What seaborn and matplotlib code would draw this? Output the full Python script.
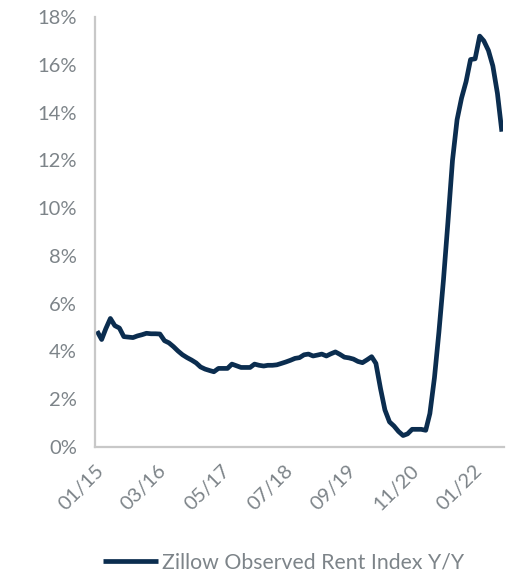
import matplotlib
matplotlib.use("Agg")
import matplotlib.pyplot as plt
import matplotlib.transforms as mtransforms
from matplotlib.ticker import FuncFormatter
import numpy as np
import pandas as pd
import seaborn as sns

# Monthly Zillow Observed Rent Index, year-over-year change (%), Jan 2015 - Jul 2022
start_month = "2015-01-01"
rent_yoy = [
    4.85, 4.50, 4.95, 5.38, 5.08, 4.98, 4.62, 4.60, 4.58, 4.65,
    4.70, 4.76, 4.74, 4.74, 4.73, 4.45, 4.36, 4.20, 4.02, 3.86,
    3.74, 3.64, 3.52, 3.35, 3.26, 3.20, 3.15, 3.29, 3.29, 3.29,
    3.47, 3.40, 3.33, 3.33, 3.33, 3.47, 3.42, 3.39, 3.42, 3.42,
    3.44, 3.50, 3.56, 3.63, 3.71, 3.74, 3.86, 3.89, 3.81, 3.85,
    3.89, 3.81, 3.90, 3.98, 3.88, 3.76, 3.73, 3.68, 3.58, 3.53,
    3.65, 3.78, 3.50, 2.45, 1.55, 1.05, 0.88, 0.65, 0.48, 0.55,
    0.74, 0.74, 0.74, 0.70, 1.40, 2.90, 4.80, 7.00, 9.40, 12.00,
    13.70, 14.60, 15.30, 16.22, 16.25, 17.20, 17.00, 16.60, 15.95, 14.80,
    13.20,
]
series_label = "Zillow Observed Rent Index Y/Y"
tick_dates = ["2015-01-01", "2016-03-01", "2017-05-01", "2018-07-01",
              "2019-09-01", "2020-11-01", "2022-01-01"]
tick_labels = ["01/15", "03/16", "05/17", "07/18", "09/19", "11/20", "01/22"]
y_ticks = [0, 2, 4, 6, 8, 10, 12, 14, 16, 18]

# readings are taken mid-month
dates = pd.date_range(start_month, periods=len(rent_yoy), freq="MS") + pd.Timedelta(days=14)
df = pd.DataFrame({"date": dates, "value": rent_yoy, "series": series_label})

sns.set_style("white")
plt.rcParams["font.family"] = ["Lato", "DejaVu Sans"]

navy = "#0b2d4f"
grey_text = "#7d8489"
grey_axis = "#c8c8c8"

fig = plt.figure(figsize=(5.13, 5.76), dpi=100)
ax = fig.add_axes([95 / 513, 1 - 447 / 576, (503.5 - 95) / 513, (447 - 17) / 576])

sns.lineplot(data=df, x="date", y="value", hue="series", palette=[navy],
             linewidth=3.4, ax=ax, legend=True)
for ln in ax.get_lines():
    ln.set_solid_joinstyle("round")
    ln.set_solid_capstyle("butt")

ax.set_xlim(pd.Timestamp("2015-01-01"), pd.Timestamp("2022-07-26"))
ax.set_ylim(0, 18)
ax.set_yticks(y_ticks)
ax.yaxis.set_major_formatter(FuncFormatter(lambda v, _: f"{v:.0f}%"))
ax.set_xticks([pd.Timestamp(d) for d in tick_dates])
ax.set_xticklabels(tick_labels, rotation=45, ha="right", rotation_mode="anchor")

# nudge the slanted date labels so their ends sit just right of each tick
shift = mtransforms.ScaledTranslation(6 / 72, -7 / 72, fig.dpi_scale_trans)
for lbl in ax.get_xticklabels():
    lbl.set_transform(lbl.get_transform() + shift)

ax.set_xlabel("")
ax.set_ylabel("")
for side in ["top", "right"]:
    ax.spines[side].set_visible(False)
for side in ["left", "bottom"]:
    ax.spines[side].set_color(grey_axis)
    ax.spines[side].set_linewidth(1.6)

ax.tick_params(axis="both", which="major", length=5, width=1.2, color=grey_axis,
               labelcolor=grey_text, labelsize=14.5, direction="out")
ax.tick_params(axis="y", pad=8)
ax.tick_params(axis="x", pad=6)
ax.grid(False)

handles, labels = ax.get_legend_handles_labels()
ax.legend_.remove()
leg = fig.legend(handles, labels, loc="center", bbox_to_anchor=(0.553, 0.024),
                 frameon=False, fontsize=15.3, handlelength=2.55, handletextpad=0.2,
                 borderpad=0)
for t in leg.get_texts():
    t.set_color(grey_text)

fig.savefig("out.png", dpi=100)
